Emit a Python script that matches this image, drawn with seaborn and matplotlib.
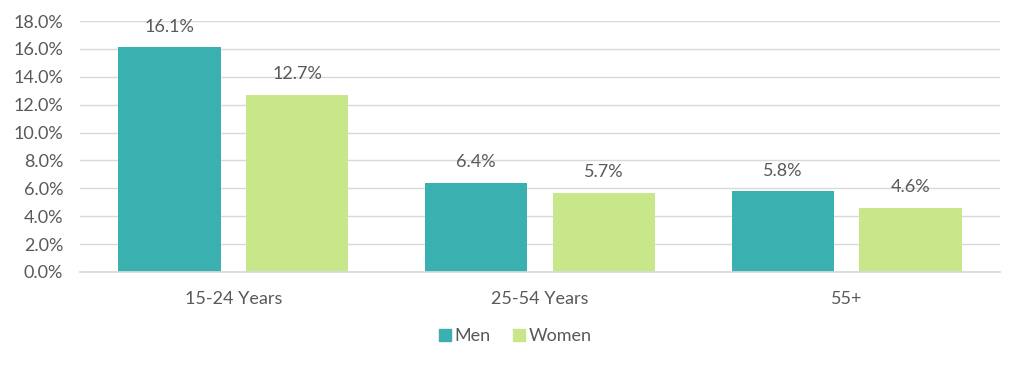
import matplotlib
matplotlib.use("Agg")
import matplotlib.pyplot as plt
import seaborn as sns
import pandas as pd
from matplotlib.ticker import FuncFormatter, MultipleLocator

age_groups = ["15-24 Years", "25-54 Years", "55+"]
men = [16.1, 6.4, 5.8]
women = [12.7, 5.7, 4.6]
series_names = ["Men", "Women"]
colors = ["#3AB0B0", "#C8E68A"]
text_color = "#595959"

df = pd.DataFrame({
    "group": age_groups * 2,
    "sex": ["Men"] * 3 + ["Women"] * 3,
    "value": men + women,
})

sns.set_theme(style="white")
plt.rcParams["font.family"] = ["Lato", "DejaVu Sans"]

fig = plt.figure(figsize=(10.24, 3.7), dpi=100)
ax = fig.add_axes([80 / 1024, 1 - 272 / 370, 920 / 1024, (272 - 21) / 370])

sns.barplot(data=df, x="group", y="value", hue="sex", hue_order=series_names,
            palette=colors, width=0.834, gap=0.2, saturation=1, ax=ax,
            legend=False, edgecolor="none")

for cont in ax.containers:
    ax.bar_label(cont, labels=[f"{v:.1f}%" for v in cont.datavalues],
                 padding=9, fontsize=13, color=text_color)

ax.set_ylim(0, 18)
ax.set_xlim(-0.5, 2.5)
ax.yaxis.set_major_locator(MultipleLocator(2))
ax.yaxis.set_major_formatter(FuncFormatter(lambda v, p: f"{v:.1f}%"))
ax.grid(axis="y", color="#D9D9D9", linewidth=1)
ax.set_axisbelow(True)
for s in ["top", "right", "left"]:
    ax.spines[s].set_visible(False)
ax.spines["bottom"].set_color("#D9D9D9")
ax.tick_params(axis="both", length=0, labelsize=13, colors=text_color)
ax.tick_params(axis="x", pad=14)
ax.tick_params(axis="y", pad=12)
ax.set_xlabel("")
ax.set_ylabel("")

handles = [plt.Line2D([0], [0], marker="s", linestyle="", markersize=8,
                      markerfacecolor=c, markeredgecolor=c) for c in colors]
fig.legend(handles, series_names, loc="center", bbox_to_anchor=(515 / 1024, 1 - 336 / 370),
           ncol=2, frameon=False, fontsize=13, labelcolor=text_color,
           handlelength=0.7, handletextpad=0.2, columnspacing=1.2)

fig.savefig("out.png", dpi=100)
